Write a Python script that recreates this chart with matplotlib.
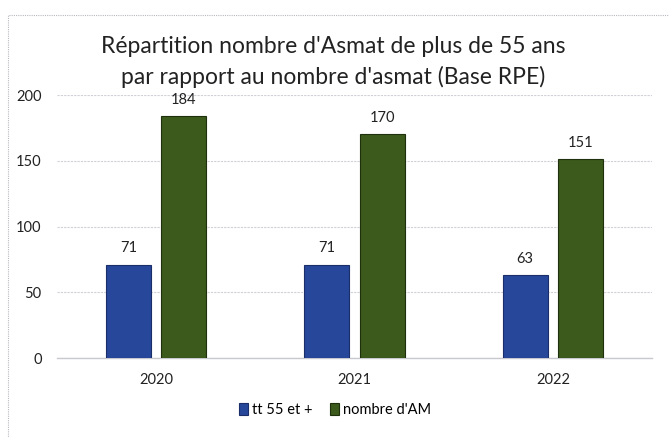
import matplotlib
matplotlib.use("Agg")
import matplotlib.pyplot as plt
import numpy as np
from matplotlib.patches import Rectangle

categories = ["2020", "2021", "2022"]
series_names = ["tt 55 et +", "nombre d'AM"]
tt55 = [71, 71, 63]
nombre_am = [184, 170, 151]
yticks = [0, 50, 100, 150, 200]
title = "Répartition nombre d'Asmat de plus de 55 ans\npar rapport au nombre d'asmat (Base RPE)"

plt.rcParams['font.family'] = ['Lato', 'DejaVu Sans']

W, H = 669, 437
fig = plt.figure(figsize=(W / 100, H / 100), dpi=100)
fig.patch.set_facecolor("white")

# plot area in pixels
left, right = 57, 652
top, bottom = 95, 358
ax = fig.add_axes([left / W, 1 - bottom / H, (right - left) / W, (bottom - top) / H])

x = np.arange(len(categories))
bw = 0.227
off = 0.14
c_blue = "#27479A"
c_green = "#3B5A1C"
b1 = ax.bar(x - off, tt55, bw, color=c_blue, edgecolor="#1a2f6a", linewidth=0.8, label=series_names[0], zorder=3)
b2 = ax.bar(x + off, nombre_am, bw, color=c_green, edgecolor="#1f300c", linewidth=0.8, label=series_names[1], zorder=3)

for bars in (b1, b2):
    for r in bars:
        ax.text(r.get_x() + r.get_width() / 2, r.get_height() + 7, f"{int(r.get_height())}",
                ha="center", va="bottom", fontsize=10.5, color="#222222", zorder=4)

ax.set_xlim(-0.5, 2.5)
ax.set_ylim(0, 200)
ax.set_yticks(yticks)
ax.set_xticks(x)
ax.set_xticklabels(categories)
ax.tick_params(axis="both", length=0, labelsize=10.5, colors="#222222")
ax.tick_params(axis="y", pad=11)
ax.tick_params(axis="x", pad=11)
for s in ["top", "right", "left"]:
    ax.spines[s].set_visible(False)
ax.spines["bottom"].set_color("#c8c8d0")
ax.spines["bottom"].set_linewidth(1.0)
ax.yaxis.grid(True, color="#d0d0d8", linestyle=(0, (2, 1)), linewidth=0.8, zorder=0)
ax.set_axisbelow(True)

fig.text(333 / W, 1 - 62 / H, title, ha="center", va="center", fontsize=16.5,
         color="#222222", linespacing=1.45)

leg = fig.legend(handles=[b1, b2], labels=series_names, loc="center",
                 bbox_to_anchor=(335 / W, 1 - 410 / H), ncol=2, frameon=False,
                 fontsize=10.5, handlelength=0.6, handleheight=0.8, handletextpad=0.3,
                 columnspacing=1.2)

# dotted chart border
fig.patches.append(Rectangle((8 / W, -0.01), 1.0, 1 - 15 / H + 0.01, transform=fig.transFigure,
                             fill=False, edgecolor="#b8b8c0", linestyle=(0, (1, 1)), linewidth=0.8))

fig.savefig("out.png", dpi=100, facecolor="white")
